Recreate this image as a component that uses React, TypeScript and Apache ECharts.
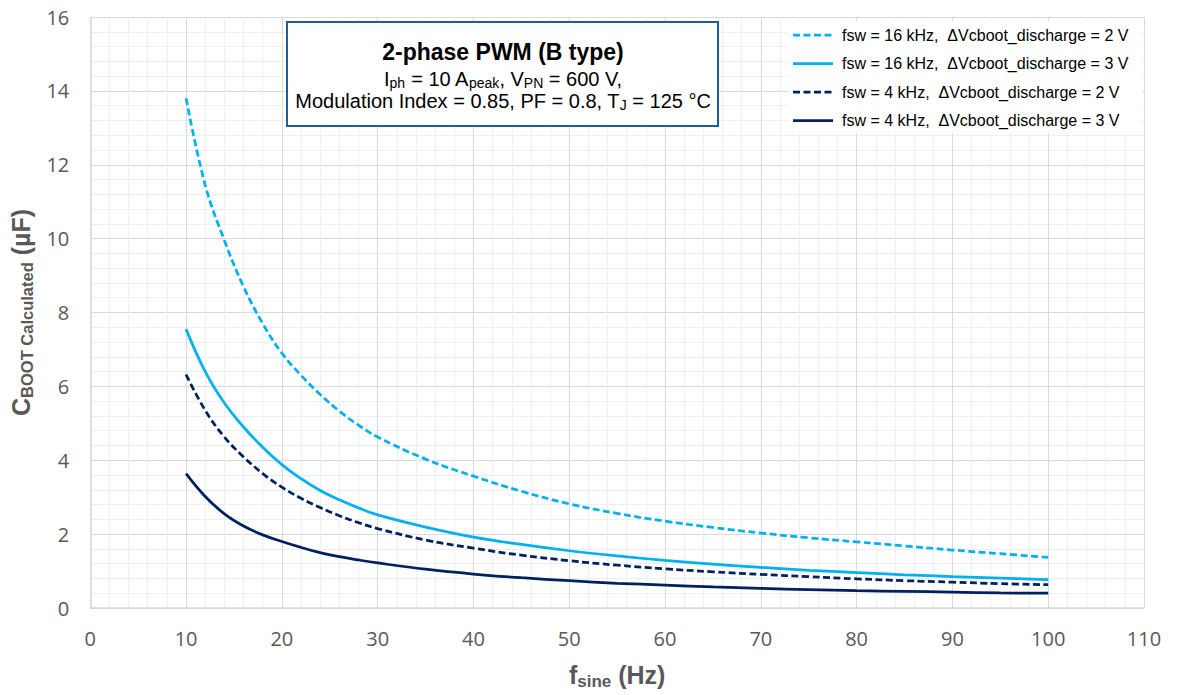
import React, { useEffect, useRef } from 'react';
import * as echarts from 'echarts';

// f_sine (Hz) sample points
const fsine = [10, 12, 14, 16, 18, 20, 22, 24, 26, 28, 30, 35, 40, 45, 50, 55, 60, 65, 70, 75, 80, 85, 90, 95, 100];

// C_BOOT calculated (µF)
const c16k2V = [13.8, 11.45, 9.95, 8.7, 7.7, 6.9, 6.3, 5.78, 5.33, 4.95, 4.63, 4.03, 3.57, 3.16, 2.82, 2.56, 2.35, 2.18, 2.03, 1.9, 1.79, 1.68, 1.57, 1.47, 1.37];
const c16k3V = [7.55, 6.4, 5.55, 4.9, 4.35, 3.88, 3.5, 3.18, 2.93, 2.71, 2.52, 2.19, 1.92, 1.72, 1.55, 1.41, 1.29, 1.19, 1.1, 1.02, 0.96, 0.9, 0.85, 0.81, 0.77];
const c4k2V = [6.32, 5.35, 4.63, 4.09, 3.64, 3.27, 2.97, 2.72, 2.5, 2.31, 2.15, 1.84, 1.62, 1.43, 1.28, 1.16, 1.06, 0.98, 0.91, 0.85, 0.79, 0.74, 0.7, 0.66, 0.63];
const c4k3V = [3.64, 3.02, 2.55, 2.22, 1.98, 1.8, 1.64, 1.5, 1.39, 1.3, 1.22, 1.05, 0.92, 0.82, 0.74, 0.67, 0.62, 0.57, 0.53, 0.5, 0.47, 0.45, 0.43, 0.41, 0.4];

const seriesNames = [
  'fsw = 16 kHz,  ΔVcboot_discharge = 2 V',
  'fsw = 16 kHz,  ΔVcboot_discharge = 3 V',
  'fsw = 4 kHz,  ΔVcboot_discharge = 2 V',
  'fsw = 4 kHz,  ΔVcboot_discharge = 3 V',
];
const seriesValues = [c16k2V, c16k3V, c4k2V, c4k3V];
const seriesColors = ['#00B0F0', '#00B0F0', '#002060', '#002060'];
const seriesDashed = [true, false, true, false];

const FONT = "'Liberation Sans', Arial, sans-serif";
const TICK_FONT = "'Open Sans', 'Liberation Sans', sans-serif";
const DASH = [7, 3.5];

export default function App() {
  const ref = useRef<HTMLDivElement>(null);

  useEffect(() => {
    if (!ref.current) return;
    const chart = echarts.init(ref.current, undefined, { renderer: 'svg' });

    const series = seriesNames.map((name, i) => ({
      name,
      type: 'line',
      data: fsine.map((x, k) => [x, seriesValues[i][k]]),
      smooth: 0.4,
      symbol: 'none',
      showSymbol: false,
      lineStyle: {
        color: seriesColors[i],
        width: 2.75,
        type: seriesDashed[i] ? DASH : 'solid',
        cap: 'butt',
      },
      itemStyle: { color: seriesColors[i] },
      z: 3,
    }));

    const majorLine = { show: true, lineStyle: { color: '#d9d9d9', width: 1 } };
    const minorLine = { show: true, lineStyle: { color: '#efefef', width: 1 } };

    // manual legend (line samples + labels)
    const legendTop = 35;
    const legendStep = 28.5;
    const legendGraphics: any[] = [
      {
        type: 'rect',
        shape: { x: 789, y: 21, width: 353, height: 112 },
        style: { fill: '#ffffff' },
        z: 100,
      },
    ];
    seriesNames.forEach((name, i) => {
      const y = legendTop + i * legendStep;
      legendGraphics.push({
        type: 'line',
        shape: { x1: 793, y1: y, x2: 833, y2: y },
        style: {
          stroke: seriesColors[i],
          lineWidth: 2.75,
          lineDash: seriesDashed[i] ? DASH : null,
        },
        z: 101,
      });
      legendGraphics.push({
        type: 'text',
        x: 842,
        y,
        z: 101,
        style: {
          text: name,
          fontSize: 16,
          fontFamily: FONT,
          fill: '#000000',
          align: 'left',
          verticalAlign: 'middle',
        },
      });
    });

    const subRich = {
      n: { fontSize: 20, fontFamily: FONT, fill: '#000000', lineHeight: 22 },
      s: { fontSize: 14, fontFamily: FONT, fill: '#000000', lineHeight: 10, verticalAlign: 'bottom' },
    };

    chart.setOption({
      animation: false,
      backgroundColor: '#ffffff',
      grid: { left: 88, right: 35, top: 17, bottom: 84, containLabel: false },
      xAxis: {
        type: 'value',
        min: 0,
        max: 110,
        interval: 10,
        axisLine: { show: true, lineStyle: { color: '#d9d9d9', width: 1.5 } },
        axisTick: { show: false },
        minorTick: { show: false, splitNumber: 5 },
        splitLine: majorLine,
        minorSplitLine: minorLine,
        axisLabel: { color: '#595959', fontSize: 20, fontFamily: TICK_FONT, margin: 20 },
        name: '{f|f}{s|sine}{f| (Hz)}',
        nameLocation: 'middle',
        nameGap: 52,
        nameTextStyle: {
          rich: {
            f: { fontSize: 25, fontWeight: 'bold', color: '#595959', fontFamily: FONT, lineHeight: 30 },
            s: { fontSize: 17, fontWeight: 'bold', color: '#595959', fontFamily: FONT, lineHeight: 14, verticalAlign: 'bottom' },
          },
        },
      },
      yAxis: {
        type: 'value',
        min: 0,
        max: 16,
        interval: 2,
        axisLine: { show: true, lineStyle: { color: '#d9d9d9', width: 1.5 } },
        axisTick: { show: false },
        minorTick: { show: false, splitNumber: 5 },
        splitLine: majorLine,
        minorSplitLine: minorLine,
        axisLabel: { color: '#595959', fontSize: 20, fontFamily: TICK_FONT, margin: 21 },
        name: '{c|C}{s|BOOT Calculated}{c| (µF)}',
        nameLocation: 'middle',
        nameGap: 51,
        nameTextStyle: {
          rich: {
            c: { fontSize: 25, fontWeight: 'bold', color: '#595959', fontFamily: FONT, lineHeight: 30 },
            s: { fontSize: 16.5, fontWeight: 'bold', color: '#595959', fontFamily: FONT, lineHeight: 14, verticalAlign: 'bottom' },
          },
        },
      },
      graphic: [
        ...legendGraphics,
        {
          type: 'rect',
          shape: { x: 287, y: 22, width: 431, height: 104 },
          style: { fill: '#ffffff', stroke: '#1F5C99', lineWidth: 2 },
          z: 100,
        },
        {
          type: 'text',
          x: 503,
          y: 52,
          z: 101,
          style: {
            text: '2-phase PWM (B type)',
            fontSize: 23,
            fontWeight: 'bold',
            fontFamily: FONT,
            fill: '#000000',
            align: 'center',
            verticalAlign: 'middle',
          },
        },
        {
          type: 'text',
          x: 503,
          y: 79,
          z: 101,
          style: {
            text: '{n|I}{s|ph}{n| = 10 A}{s|peak}{n|, V}{s|PN}{n| = 600 V,}',
            align: 'center',
            verticalAlign: 'middle',
            rich: subRich,
          },
        },
        {
          type: 'text',
          x: 503,
          y: 101,
          z: 101,
          style: {
            text: '{n|Modulation Index = 0.85, PF = 0.8, T}{s|J}{n| = 125 °C}',
            align: 'center',
            verticalAlign: 'middle',
            rich: subRich,
          },
        },
      ],
      series,
    });

    return () => {
      chart.dispose();
    };
  }, []);

  return (
    <div
      ref={ref}
      style={{ position: 'fixed', left: 0, top: 0, width: 1179, height: 695, background: '#fff' }}
    />
  );
}
